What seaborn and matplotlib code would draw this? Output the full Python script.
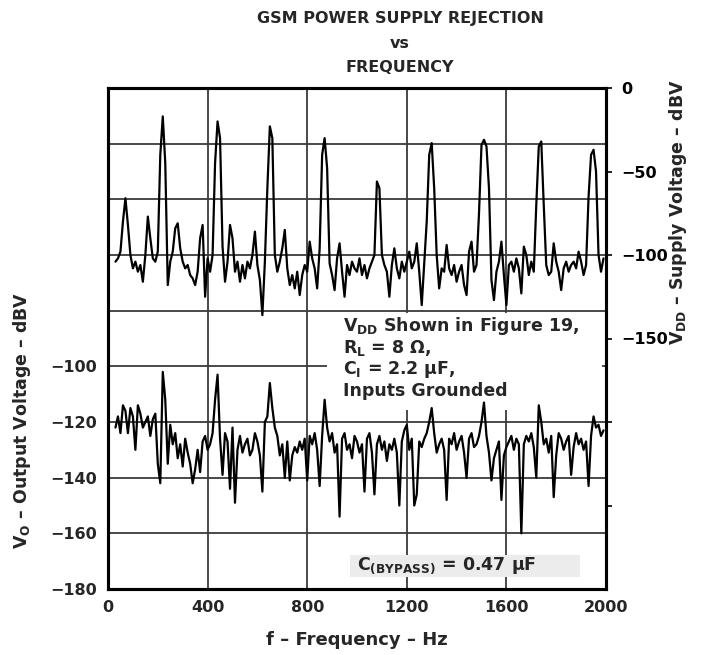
import numpy as np
import pandas as pd
import matplotlib
matplotlib.use("Agg")
import matplotlib.pyplot as plt
from matplotlib.patches import Rectangle
import seaborn as sns

# ---------------- data ----------------
freq_hz = np.arange(30, 2000, 10)

# V_DD supply voltage (right axis, dBV)
vdd_dbv = [
    -104, -102, -98, -80, -66, -82, -100,                                   # 30-90
    -108, -104, -110, -106, -116, -100, -77, -90, -102, -104,              # 100-190
    -98, -40, -17, -45, -118, -104, -98, -84, -81, -96,                    # 200-290
    -104, -108, -106, -112, -114, -118, -110, -90, -82, -125,              # 300-390
    -102, -110, -100, -45, -20, -30, -95, -116, -104, -82,                 # 400-490
    -90, -110, -104, -116, -106, -114, -104, -108, -100, -86,              # 500-590
    -106, -115, -136, -104, -60, -23, -30, -100, -110, -104,               # 600-690
    -96, -85, -108, -118, -112, -120, -110, -124, -112, -106,              # 700-790
    -110, -92, -102, -108, -120, -96, -40, -30, -48, -105,                 # 800-890
    -112, -121, -102, -93, -110, -125, -106, -112, -104, -108,             # 900-990
    -110, -102, -112, -106, -114, -108, -104, -100, -56, -60,              # 1000-1090
    -100, -106, -110, -125, -106, -96, -108, -114, -104, -110,             # 1100-1190
    -104, -98, -108, -104, -93, -110, -130, -105, -80, -40,                # 1200-1290
    -33, -60, -100, -120, -108, -110, -94, -108, -112, -106,               # 1300-1390
    -116, -110, -106, -118, -124, -98, -92, -110, -106, -75,               # 1400-1490
    -34, -31, -35, -60, -115, -127, -110, -104, -92, -112,                 # 1500-1590
    -130, -106, -104, -110, -102, -108, -123, -95, -100, -112,             # 1600-1690
    -104, -110, -70, -35, -32, -70, -106, -112, -110, -93,                 # 1700-1790
    -104, -110, -121, -108, -104, -110, -106, -104, -108, -98,             # 1800-1890
    -104, -112, -106, -65, -40, -37, -50, -100, -110, -102,                # 1900-1990
]

# V_O output voltage (left axis, dBV), C(BYPASS) = 0.47 uF
vo_dbv = [
    -122, -118, -124, -114, -116, -124, -115,                              # 30-90
    -118, -130, -114, -117, -122, -120, -118, -125, -119, -117,            # 100-190
    -135, -142, -102, -112, -135, -121, -128, -124, -133, -128,            # 200-290
    -136, -126, -131, -135, -142, -137, -130, -138, -127, -125,            # 300-390
    -130, -128, -124, -112, -103, -126, -139, -124, -127, -144,            # 400-490
    -122, -149, -130, -125, -131, -128, -126, -132, -130, -124,            # 500-590
    -127, -132, -145, -120, -118, -106, -115, -122, -125, -132,            # 600-690
    -128, -140, -127, -141, -132, -129, -131, -127, -130, -126,            # 700-790
    -141, -125, -128, -124, -130, -143, -125, -112, -122, -127,            # 800-890
    -124, -131, -128, -154, -126, -124, -130, -128, -133, -125,            # 900-990
    -127, -131, -128, -145, -126, -124, -131, -146, -128, -125,            # 1000-1090
    -130, -127, -134, -128, -130, -126, -131, -150, -127, -123,            # 1100-1190
    -121, -130, -126, -150, -146, -127, -129, -126, -124, -120,            # 1200-1290
    -115, -124, -131, -128, -126, -130, -148, -126, -128, -124,            # 1300-1390
    -130, -127, -125, -131, -140, -126, -124, -129, -128, -125,            # 1400-1490
    -120, -113, -125, -131, -141, -133, -130, -127, -148, -132,            # 1500-1590
    -129, -127, -125, -130, -126, -128, -160, -128, -125, -127,            # 1600-1690
    -124, -129, -140, -114, -120, -128, -126, -131, -125, -147,            # 1700-1790
    -132, -124, -126, -130, -127, -125, -139, -129, -124, -128,            # 1800-1890
    -126, -130, -127, -143, -125, -118, -122, -121, -125, -123,            # 1900-1990
]

x_ticks = [0, 400, 800, 1200, 1600, 2000]
left_ticks = [-180, -160, -140, -120, -100]
right_ticks = [0, -50, -100, -150]

title_text = "GSM POWER SUPPLY REJECTION\nvs\nFREQUENCY"
note_lines = ["V$_{DD}$ Shown in Figure 19,", "R$_{L}$ = 8 Ω,",
              "C$_{I}$ = 2.2 μF,", "Inputs Grounded"]
bypass_text = "C$_{(BYPASS)}$ = 0.47 μF"

df_vdd = pd.DataFrame({"f": freq_hz, "v": vdd_dbv})
df_vo = pd.DataFrame({"f": freq_hz, "v": vo_dbv})

# ---------------- style ----------------
sns.set_theme(style="white")
plt.rcParams["font.family"] = ["DejaVu Sans"]
plt.rcParams["font.weight"] = "bold"
plt.rcParams["mathtext.fontset"] = "custom"
plt.rcParams["mathtext.rm"] = "DejaVu Sans:bold"
plt.rcParams["mathtext.it"] = "DejaVu Sans:bold"
plt.rcParams["mathtext.bf"] = "DejaVu Sans:bold"

W, H = 702, 655
fig = plt.figure(figsize=(W / 100, H / 100), dpi=100)
L, R, T, B = 108, 606, 88, 589
ax = fig.add_axes([L / W, 1 - B / H, (R - L) / W, (B - T) / H])
ax2 = ax.twinx()

ax.set_xlim(0, 2000)
ax.set_ylim(-180, 0)
ax2.set_ylim(-300, 0)

grid_c = "#3a3a3a"
for xv in [400, 800, 1200, 1600]:
    ax.axvline(xv, color=grid_c, lw=1.3, zorder=1)
for yv in range(-160, 0, 20):
    ax.axhline(yv, color=grid_c, lw=1.3, zorder=1)

# white box behind the note
ax.add_patch(Rectangle((880, -115.7), 1105, 35.0, facecolor="white",
                       edgecolor="none", zorder=2))
# gray box for bypass label
ax.add_patch(Rectangle((972, -175.7), 925, 7.9, facecolor="#ececec",
                       edgecolor="none", zorder=2))

sns.lineplot(data=df_vo, x="f", y="v", ax=ax, color="black", lw=1.6,
             zorder=5, legend=False)
sns.lineplot(data=df_vdd, x="f", y="v", ax=ax2, color="black", lw=1.6,
             zorder=5, legend=False)

fs = 11.5
ax.set_xticks(x_ticks)
ax.set_xticklabels([str(v) for v in x_ticks], fontsize=fs, fontweight="bold")
ax.set_yticks(left_ticks)
ax.set_yticklabels([f"\u2212{abs(v)}" for v in left_ticks], fontsize=fs,
                   fontweight="bold")
ax.tick_params(axis="both", length=0, pad=8)

ax2.set_yticks(right_ticks + [-200, -250])
ax2.set_yticklabels([("0" if v == 0 else f"\u2212{abs(v)}") for v in right_ticks]
                    + ["", ""], fontsize=fs, fontweight="bold")
ax2.tick_params(axis="y", length=4, width=1.2, direction="out", pad=7,
                colors="black")

ax.set_xlabel("")
ax.set_ylabel("")
ax2.set_ylabel("")

for a in (ax, ax2):
    for s in a.spines.values():
        s.set_color("black")
        s.set_linewidth(2.2)
    a.patch.set_alpha(0)

# texts
fig.text(400 / W, 1 - 43 / H, title_text, ha="center", va="center",
         fontsize=11.5, fontweight="bold", linespacing=1.75)
fig.text(357 / W, 1 - 640 / H, "f \u2013 Frequency \u2013 Hz", ha="center",
         va="center", fontsize=13, fontweight="bold")
fig.text(22 / W, 1 - 420 / H, "V$_{O}$ \u2013 Output Voltage \u2013 dBV",
         ha="center", va="center", rotation=90, fontsize=12.5, fontweight="bold")
fig.text(678 / W, 1 - 212 / H, "V$_{DD}$ \u2013 Supply Voltage \u2013 dBV",
         ha="center", va="center", rotation=90, fontsize=12.5, fontweight="bold")

for i, line in enumerate(note_lines):
    fig.text(343 / W, 1 - (326 + 21.5 * i) / H, line, ha="left", va="center",
             fontsize=12.5, fontweight="bold", zorder=10)
fig.text(357 / W, 1 - 566 / H, bypass_text, ha="left", va="center",
         fontsize=12.5, fontweight="bold", zorder=10)

fig.savefig("out.png", dpi=100)
